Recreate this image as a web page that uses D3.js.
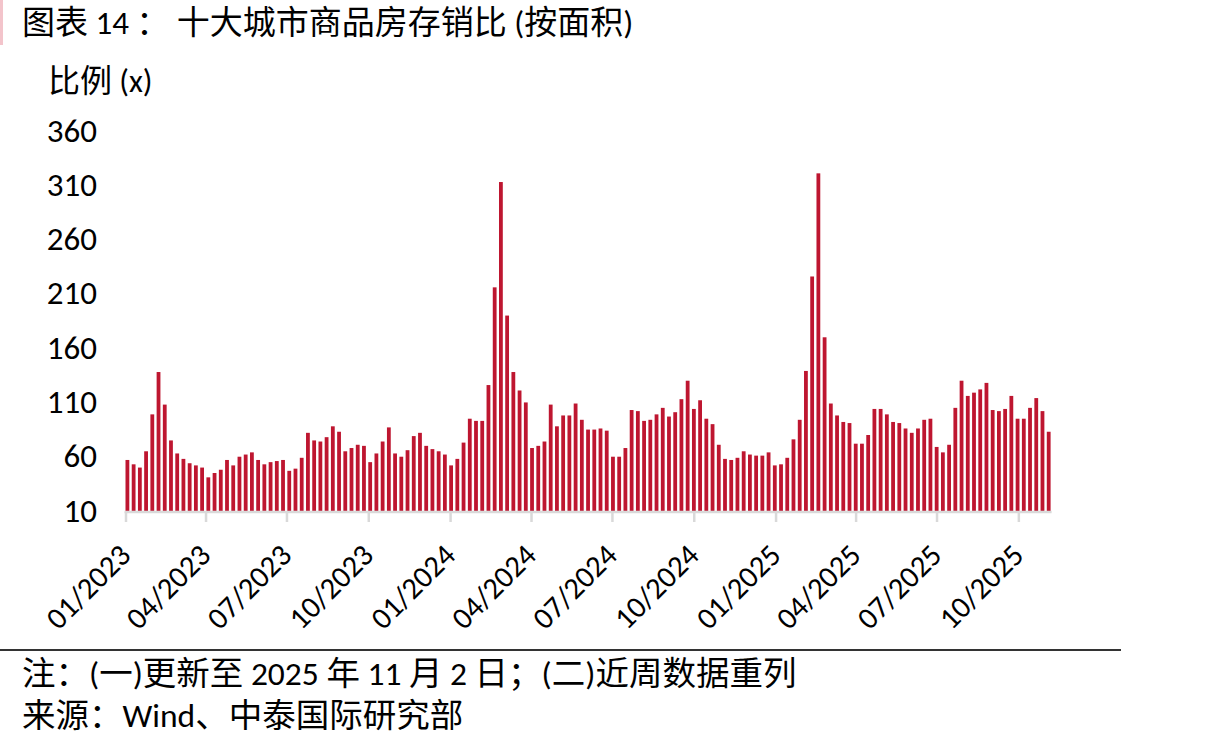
<!DOCTYPE html>
<html>
<head>
<meta charset="utf-8">
<script src="https://cdn.jsdelivr.net/npm/d3@7"></script>
<style>
  html, body { margin: 0; padding: 0; background: #fff; }
  svg { display: block; }
  text { font-family: Carlito, Lato, "Noto Sans CJK SC", sans-serif; fill: #000; }
</style>
</head>
<body>
<svg id="chart" width="1220" height="748"></svg>
<script>
// ---- data ----
const firstWeek = "2023-01-01";   // weekly observations (Sundays)
const values = [
  57,53,50,65,99,138,108,75,63,58,54,52,50,41,45,48,57,52,60,62,
  64,57,53,55,56,57,47,49,59,82,75,74,78,88,83,65,68,71,
  70,55,63,74,87,63,60,66,79,82,70,67,65,62,52,58,73,95,93,93,
  126,216,313,190,138,121,110,68,70,74,108,88,98,98,109,94,85,85,86,
  84,60,60,68,103,102,93,94,99,105,97,101,113,130,104,112,95,90,71,58,
  57,59,65,62,61,61,64,52,53,59,76,94,139,226,321,170,109,98,
  92,91,72,72,80,104,104,99,92,91,86,82,86,94,95,69,64,71,105,130,
  116,119,122,128,103,102,104,116,95,95,105,114,102,83
];
const yTicks = [10, 60, 110, 160, 210, 260, 310, 360];
const xTickDates = ["2023-01-01","2023-04-01","2023-07-01","2023-10-01",
                    "2024-01-01","2024-04-01","2024-07-01","2024-10-01",
                    "2025-01-01","2025-04-01","2025-07-01","2025-10-01"];
const titleText = "图表 14 ： 十大城市商品房存销比 (按面积)";
const unitText = "比例 (x)";
const noteText = "注：(一)更新至 2025 年 11 月 2 日；(二)近周数据重列";
const sourceText = "来源：Wind、中泰国际研究部";

// ---- build ----
const parse = d3.utcParse("%Y-%m-%d");
const start = parse(firstWeek);
const dates = values.map((v, i) => d3.utcWeek.offset(start, i));
const data = dates.map((d, i) => ({ date: d, value: values[i] }));

const svg = d3.select("#chart");

const x = d3.scaleUtc()
  .domain([start, dates[dates.length - 1]])
  .range([125.5, 1046.8]);
const y = d3.scaleLinear().domain([10, 360]).range([511, 131]);
const barW = 3.8;

function hText(str, tx, ty, size, anchor) {
  return svg.append("text")
    .attr("x", tx).attr("y", ty)
    .attr("font-size", size)
    .attr("text-anchor", anchor || "start")
    .text(str);
}

// left pink mark
svg.append("rect").attr("x", 0).attr("y", 0).attr("width", 3).attr("height", 45).attr("fill", "#f3c4cb");

// title and unit
hText(titleText, 22, 34, 33);
hText(unitText, 48, 92, 32);

// y tick labels
yTicks.forEach(v => {
  hText(String(v), 97, y(v) + 10.5, 33, "end");
});

// bars
svg.append("g").selectAll("rect")
  .data(data)
  .join("rect")
  .attr("x", d => x(d.date))
  .attr("width", barW)
  .attr("y", d => y(d.value))
  .attr("height", d => y(10) - y(d.value))
  .attr("fill", "#be1630");

// x axis
const xTicks = xTickDates.map(parse);
const axis = d3.axisBottom(x)
  .tickValues(xTicks)
  .tickSize(10)
  .tickFormat("");
const gx = svg.append("g").attr("transform", `translate(0,${y(10) + 1})`).call(axis);
gx.select(".domain").attr("stroke", "#d9d9d9").attr("stroke-width", 2.5)
  .attr("d", `M${x(start) - 1},0H${x(dates[dates.length - 1]) + barW + 1}`);
gx.selectAll(".tick line").attr("stroke", "#d9d9d9").attr("stroke-width", 2.5);

// rotated tick labels
const fmt = d3.utcFormat("%m/%Y");
svg.append("g").selectAll("text")
  .data(xTicks)
  .join("text")
  .attr("transform", d => `translate(${x(d) + 7},557) rotate(-45)`)
  .attr("text-anchor", "end")
  .attr("font-size", 30.5)
  .text(d => fmt(d));

// bottom rule
svg.append("line").attr("x1", 0).attr("x2", 1121).attr("y1", 650).attr("y2", 650)
  .attr("stroke", "#333").attr("stroke-width", 2);

// notes
hText(noteText, 22, 685, 33.5);
hText(sourceText, 22, 727, 33.5);
</script>
</body>
</html>
